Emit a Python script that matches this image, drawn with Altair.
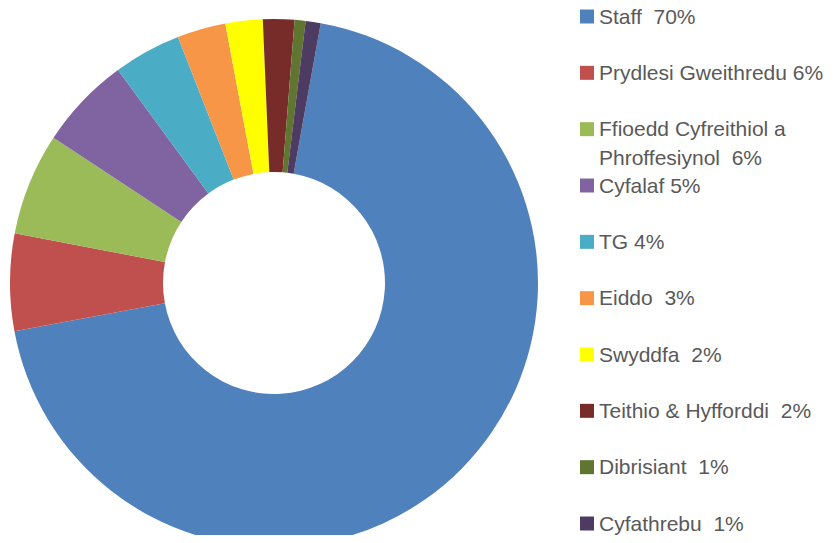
import math
import altair as alt
import pandas as pd

cats = ["Staff", "Prydlesi Gweithredu", "Ffioedd Cyfreithiol a Phroffesiynol", "Cyfalaf", "TG",
        "Eiddo", "Swyddfa", "Teithio & Hyfforddi", "Dibrisiant", "Cyfathrebu"]
values = [69.25, 5.94, 6.25, 5.67, 4.14, 2.97, 2.28, 1.92, 0.67, 0.92]
colors = ["#4F81BD", "#C0504D", "#9BBB59", "#8064A2", "#4BACC6",
          "#F79646", "#FFFF00", "#772C2A", "#5F7530", "#4D3B62"]
legend_line1 = ["Staff \u00a070%", "Prydlesi Gweithredu 6%", "Ffioedd Cyfreithiol a", "Cyfalaf 5%", "TG 4%",
                "Eiddo \u00a03%", "Swyddfa \u00a02%", "Teithio & Hyfforddi \u00a02%", "Dibrisiant \u00a01%",
                "Cyfathrebu \u00a01%"]
legend_line2 = {"Ffioedd Cyfreithiol a Phroffesiynol": "Phroffesiynol \u00a06%"}

start = math.radians(10.2)

df = pd.DataFrame({"cat": cats, "value": values, "idx": list(range(len(cats))), "l1": legend_line1})
df2 = pd.DataFrame({"cat": list(legend_line2.keys()), "l2": list(legend_line2.values())})

color_scale = alt.Scale(domain=cats, range=colors)
yscale = alt.Scale(type="point", domain=cats, range=[8.5, 515.5], padding=0)

arc = alt.Chart(df).mark_arc(innerRadius=111, outerRadius=264).encode(
    theta=alt.Theta("value:Q", stack=True, scale=alt.Scale(range=[start, start + 2 * math.pi])),
    color=alt.Color("cat:N", scale=color_scale, legend=None),
    order=alt.Order("idx:Q"),
    x=alt.value(266),
    y=alt.value(275),
)

squares = alt.Chart(df).mark_square(size=196, opacity=1, filled=True).encode(
    y=alt.Y("cat:N", sort=cats, scale=yscale, axis=None),
    x=alt.value(579),
    color=alt.Color("cat:N", scale=color_scale, legend=None),
)

text_style = dict(align="left", baseline="alphabetic", font="Liberation Sans", fontSize=21, color="#595959")

texts1 = alt.Chart(df).mark_text(dy=7, **text_style).encode(
    y=alt.Y("cat:N", sort=cats, scale=yscale, axis=None),
    x=alt.value(591),
    text="l1:N",
)
texts2 = alt.Chart(df2).mark_text(dy=36, **text_style).encode(
    y=alt.Y("cat:N", sort=cats, scale=yscale, axis=None),
    x=alt.value(591),
    text="l2:N",
)

chart = alt.layer(arc, squares, texts1, texts2).properties(
    width=819, height=527, padding=0, autosize="none"
).configure_view(stroke=None)

chart.save("out.html", embed_options={"renderer": "svg", "actions": False})
